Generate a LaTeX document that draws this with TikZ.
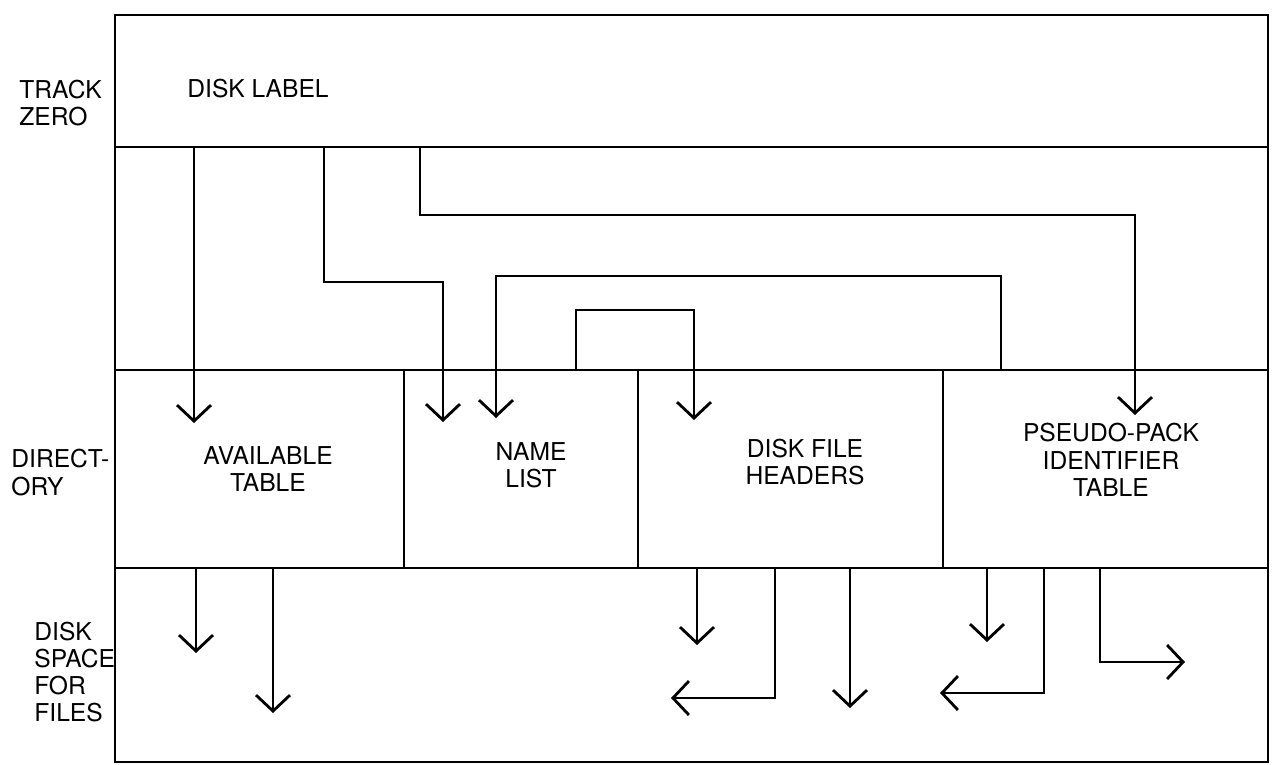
\documentclass[tikz,border=0pt]{standalone}
\usepackage{fontspec}
\setmainfont{TeX Gyre Heros}
\usetikzlibrary{arrows.meta,positioning}

\begin{document}
\begin{tikzpicture}[font=\fontsize{14}{15.5}\selectfont, >={Straight Barb[length=0.32cm,width=0.68cm]}, line width=1.6pt, node distance=0cm,
    area/.style={draw, inner sep=0pt, outer sep=0pt, minimum width=23.06cm},
    cell/.style={draw, inner sep=0pt, outer sep=0pt, minimum height=3.96cm},
    side/.style={align=left, anchor=west, inner sep=0pt},
    ptr/.style={->}]
    \useasboundingbox (0,0) rectangle (25.6,-15.3);

    % track zero and the pointer area under it
    \node[area, minimum height=2.64cm, anchor=north west] (label) at (2.30,-0.30) {};
    \node[area, minimum height=4.46cm, below=of label] (links) {};

    % directory
    \node[cell, minimum width=5.78cm, anchor=north west] (avail) at (links.south west) {};
    \node[cell, minimum width=4.68cm, right=of avail] (names) {};
    \node[cell, minimum width=6.10cm, right=of names] (headers) {};
    \node[cell, minimum width=6.50cm, right=of headers] (pseudo) {};

    % disk space
    \node[area, minimum height=3.88cm, anchor=north west] (space) at (avail.south west) {};

    % texts
    \node[side] (disklabel) at (3.72,-1.78) {DISK LABEL};
    \node[side] (track) at (0.36,-2.06) {TRACK\\ZERO};
    \node[side] (dir) at (0.20,-9.45) {DIRECT-\\ORY};
    \node[side] (files) at (0.66,-13.44) {DISK\\SPACE\\FOR\\FILES};
    \node[align=center] (availtxt) at (5.36,-9.38) {AVAILABLE\\TABLE};
    \node[align=center] (namestxt) at (10.62,-9.30) {NAME\\LIST};
    \node[align=center] (headerstxt) at (16.10,-9.24) {DISK FILE\\HEADERS};
    \node[align=center] (pseudotxt) at (22.22,-9.20) {PSEUDO-PACK\\IDENTIFIER\\TABLE};

    % pointers into the directory
    \draw[ptr] ([xshift=1.58cm]label.south west) -- ([xshift=1.58cm,yshift=-1.06cm]avail.north west);
    \draw[ptr] ([xshift=4.18cm]label.south west) -- ++(0,-2.70) -| ([xshift=0.78cm,yshift=-1.04cm]names.north west);
    \draw[ptr] ([xshift=6.10cm]label.south west) -- ++(0,-1.36) -| ([xshift=3.84cm,yshift=-0.90cm]pseudo.north west);
    \draw[ptr] ([xshift=1.16cm]pseudo.north west) -- ++(0,1.88) -| ([xshift=1.84cm,yshift=-0.96cm]names.north west);
    \draw[ptr] ([xshift=3.44cm]names.north west) -- ++(0,1.20) -| ([xshift=1.12cm,yshift=-1.00cm]headers.north west);

    % pointers into the disk space
    \draw[ptr] ([xshift=1.62cm]avail.south west) -- ++(0,-1.70);
    \draw[ptr] ([xshift=3.16cm]avail.south west) -- ++(0,-2.90);
    \draw[ptr] ([xshift=1.18cm]headers.south west) -- ++(0,-1.54);
    \draw[ptr] ([xshift=2.74cm]headers.south west) -- ++(0,-2.60) -- ++(-2.08,0);
    \draw[ptr] ([xshift=4.24cm]headers.south west) -- ++(0,-2.80);
    \draw[ptr] ([xshift=0.88cm]pseudo.south west) -- ++(0,-1.48);
    \draw[ptr] ([xshift=2.02cm]pseudo.south west) -- ++(0,-2.50) -- ++(-2.08,0);
    \draw[ptr] ([xshift=3.14cm]pseudo.south west) -- ++(0,-1.88) -- ++(1.70,0);
\end{tikzpicture}
\end{document}
